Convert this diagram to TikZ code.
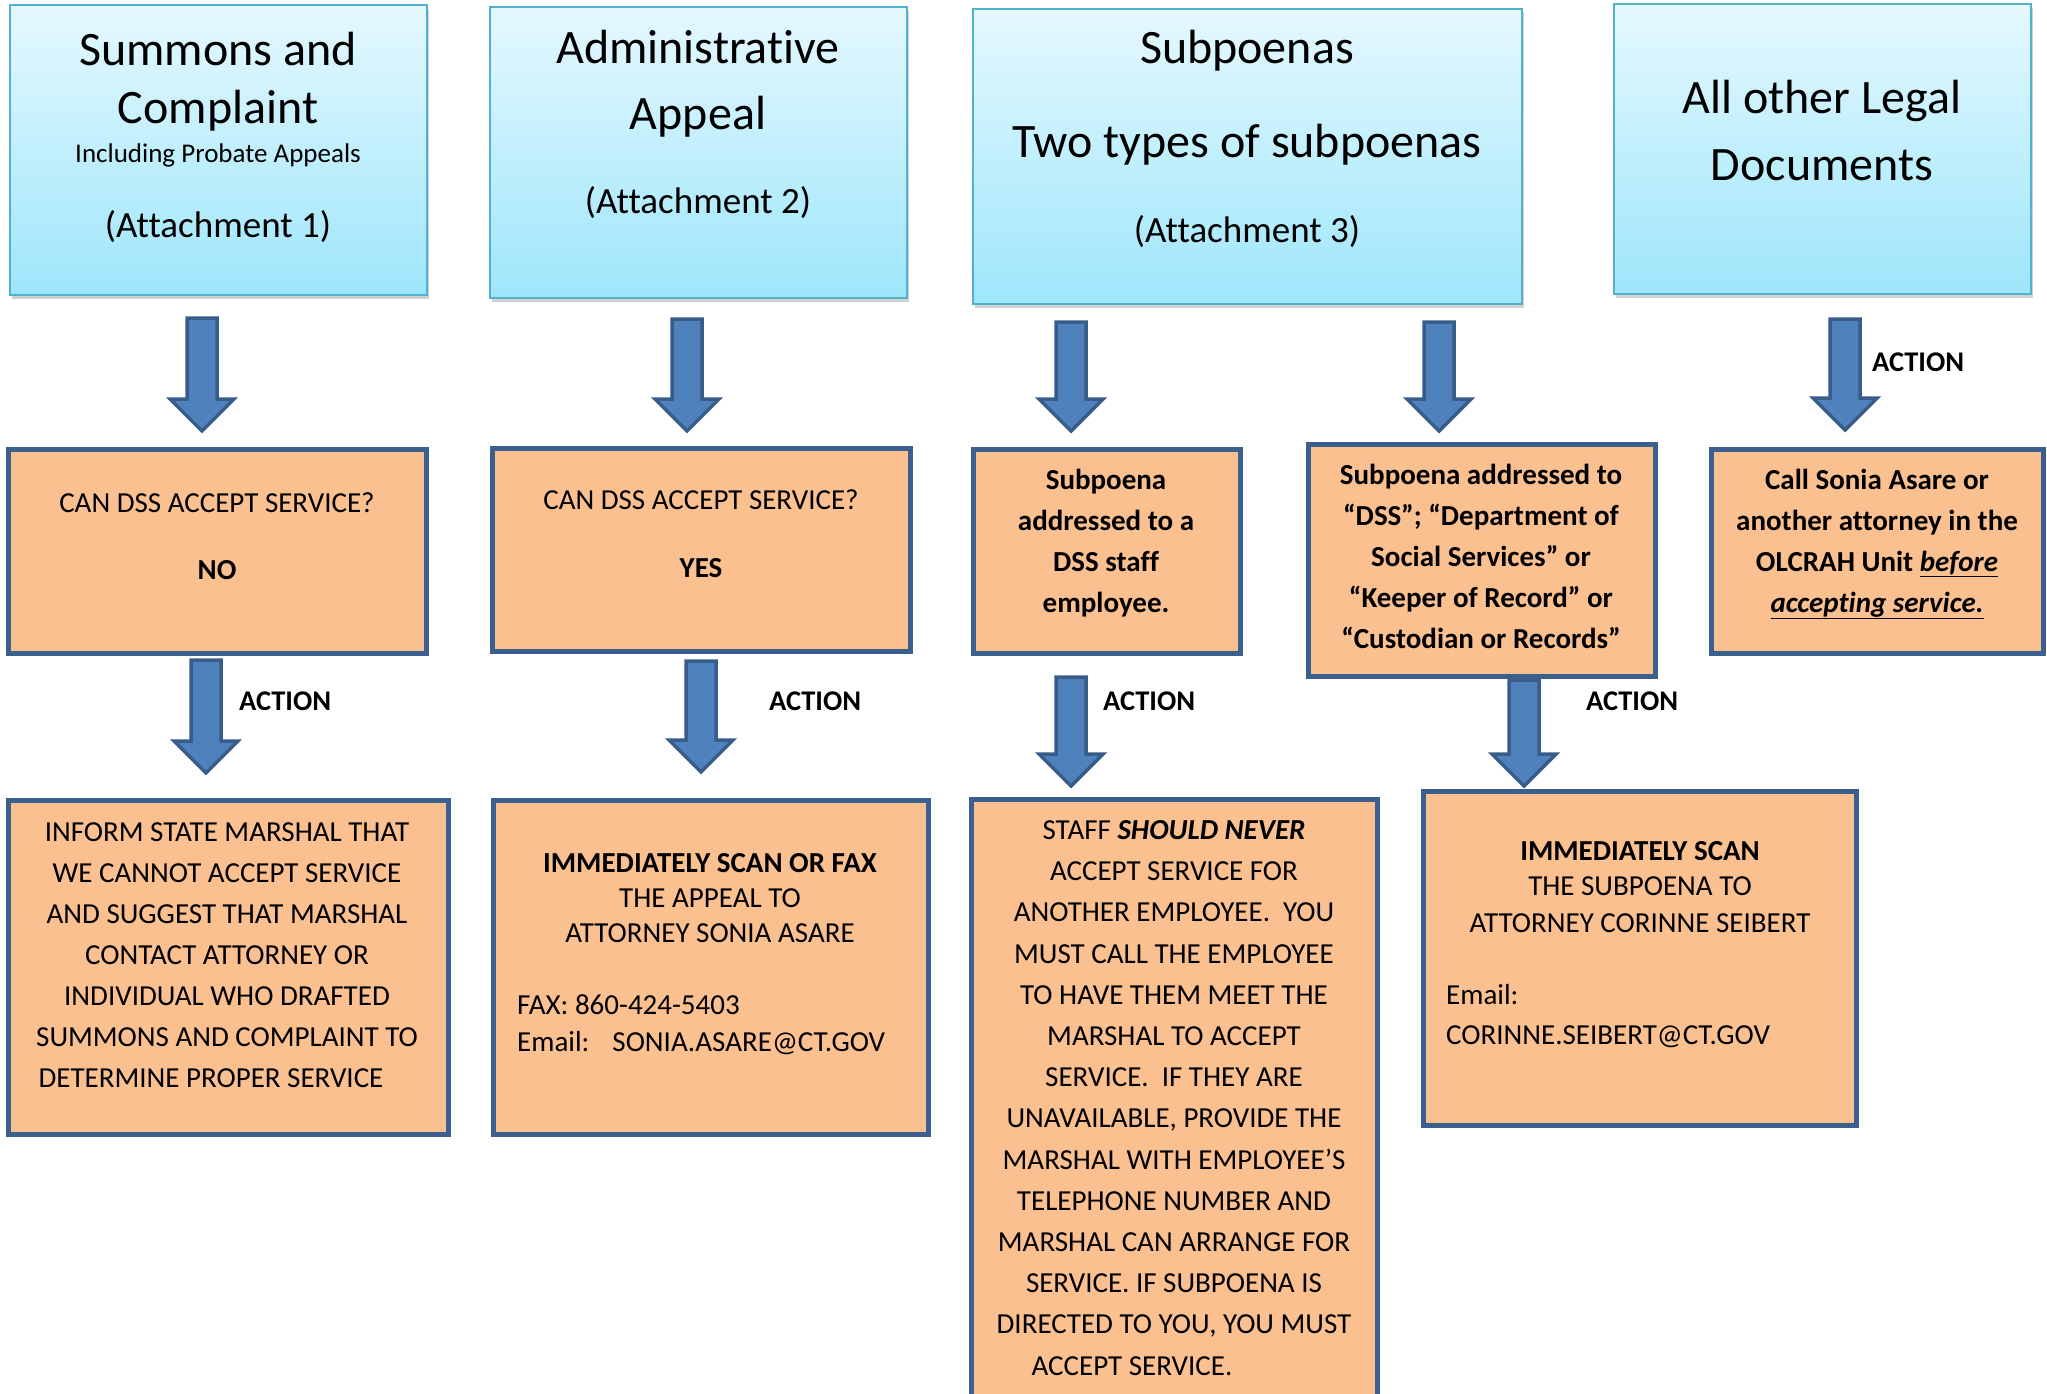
\documentclass[tikz,border=0pt]{standalone}
\usepackage{fontspec}
\setmainfont{Carlito}[Ligatures=NoCommon]
\usetikzlibrary{calc,fit,shadows}
\definecolor{boxorange}{RGB}{250,192,144}
\definecolor{boxedge}{RGB}{60,96,142}
\definecolor{arrfill}{RGB}{79,129,189}
\definecolor{arrline}{RGB}{56,93,138}
\definecolor{aquaedge}{RGB}{82,178,206}
\definecolor{aquatop}{RGB}{229,248,254}
\definecolor{aquabot}{RGB}{158,230,251}
\tikzset{
 bluebox/.style={draw=aquaedge, line width=2.5pt, top color=aquatop, bottom color=aquabot, inner sep=0pt, outer sep=0pt,
   drop shadow={shadow xshift=1.5pt, shadow yshift=-4pt, opacity=0.18, fill=black}},
 orangebox/.style={draw=boxedge, line width=5pt, fill=boxorange, inner sep=0pt, outer sep=0pt},
 blockarrow/.style={draw=arrline, fill=arrfill, line width=3.5pt, line join=miter},
 ttl/.style={anchor=base, font=\fontsize{48}{58}\selectfont, inner sep=0pt},
 att/.style={anchor=base, font=\fontsize{37}{44}\selectfont, inner sep=0pt},
 sml/.style={anchor=base, font=\fontsize{27}{33}\selectfont, inner sep=0pt},
 txt/.style={anchor=base, font=\fontsize{29}{35}\selectfont, inner sep=0pt},
 txtl/.style={txt, anchor=base west},
 bld/.style={txt, font=\fontsize{29}{35}\selectfont\bfseries},
 act/.style={anchor=base west, font=\fontsize{28.5}{34}\selectfont\bfseries, inner sep=0pt},
}
\newcommand\blockarr[2]{%
 \path[blockarrow] let \p1=(#1), \p2=(#2) in
  (\x1-15pt,\y1) -- (\x1+15pt,\y1) -- (\x1+15pt,\y2+32pt) -- (\x1+32pt,\y2+32pt)
  -- (\x1,\y2) -- (\x1-32pt,\y2+32pt) -- (\x1-15pt,\y2+32pt) -- cycle;}
\begin{document}
\begin{tikzpicture}[x=1pt,y=-1pt]
\useasboundingbox (0,0) rectangle (2047,1393);
\clip (0,0) rectangle (2047,1393);
\fill[white] (0,0) rectangle (2047,1393);

% ---------- top row ----------
\node[bluebox, fit={(10,5) (427,295)}] (b1) {};
\node[bluebox, fit={(490,7) (907,298)}] (b2) {};
\node[bluebox, fit={(973,9) (1522,304)}] (b3) {};
\node[bluebox, fit={(1614,4) (2031,294)}] (b4) {};

\node[ttl] (b1t1) at (218,65) {Summons and};
\node[ttl] (b1t2) at (218,123) {Complaint};
\node[sml] (b1t3) at (218,162) {Including Probate Appeals};
\node[att] (b1t4) at (218,237) {(Attachment 1)};

\node[ttl] (b2t1) at (698,63) {Administrative};
\node[ttl] (b2t2) at (698,129) {Appeal};
\node[att] (b2t3) at (698,213) {(Attachment 2)};

\node[ttl] (b3t1) at (1247,63) {Subpoenas};
\node[ttl] (b3t2) at (1247,157) {Two types of subpoenas};
\node[att] (b3t3) at (1247,242) {(Attachment 3)};

\node[ttl] (b4t1) at (1822,113) {All other Legal};
\node[ttl] (b4t2) at (1822,180) {Documents};

% ---------- middle row ----------
\node[orangebox, fit={(8,449) (426,653)}] (o1) {};
\node[orangebox, fit={(492,448) (910,651)}] (o2) {};
\node[orangebox, fit={(973,449) (1240,653)}] (o3) {};
\node[orangebox, fit={(1308,444) (1655,676)}] (o4) {};
\node[orangebox, fit={(1711,449) (2043,653)}] (o5) {};

\node[txt] (o1t1) at (217,512) {CAN DSS ACCEPT SERVICE?};
\node[bld] (o1t2) at (217,579) {NO};
\node[txt] (o2t1) at (701,509) {CAN DSS ACCEPT SERVICE?};
\node[bld] (o2t2) at (701,577) {YES};

\node[bld] (o3t1) at (1106,489) {Subpoena};
\node[bld] (o3t2) at (1106,530) {addressed to a};
\node[bld] (o3t3) at (1106,571) {DSS staff};
\node[bld] (o3t4) at (1106,612) {employee.};

\node[bld] (o4t1) at (1481,484) {Subpoena addressed to};
\node[bld] (o4t2) at (1481,525) {“DSS”; “Department of};
\node[bld] (o4t3) at (1481,566) {Social Services” or};
\node[bld] (o4t4) at (1481,607) {“Keeper of Record” or};
\node[bld] (o4t5) at (1481,648) {“Custodian or Records”};

\node[bld] (o5t1) at (1877,489) {Call Sonia Asare or};
\node[bld] (o5t2) at (1877,530) {another attorney in the};
\node[bld] (o5t3) at (1877,571) {OLCRAH Unit \underline{\textit{before}}};
\node[bld] (o5t4) at (1877,612) {\underline{\textit{accepting service.}}};

% ---------- bottom row ----------
\node[orangebox, fit={(8,800) (448,1134)}] (p1) {};
\node[orangebox, fit={(493,800) (928,1134)}] (p2) {};
\node[orangebox, fit={(971,799) (1377,1430)}] (p3) {};
\node[orangebox, fit={(1423,791) (1856,1125)}] (p4) {};

\node[txt] (p1t1) at (227,841) {INFORM STATE MARSHAL THAT};
\node[txt] (p1t2) at (227,882) {WE CANNOT ACCEPT SERVICE};
\node[txt] (p1t3) at (227,923) {AND SUGGEST THAT MARSHAL};
\node[txt] (p1t4) at (227,964) {CONTACT ATTORNEY OR};
\node[txt] (p1t5) at (227,1005) {INDIVIDUAL WHO DRAFTED};
\node[txt] (p1t6) at (227,1046) {SUMMONS AND COMPLAINT TO};
\node[txt] (p1t7) at (211,1087) {DETERMINE PROPER SERVICE};

\node[bld] (p2t1) at (710,872) {IMMEDIATELY SCAN OR FAX};
\node[txt] (p2t2) at (710,907) {THE APPEAL TO};
\node[txt] (p2t3) at (710,942) {ATTORNEY SONIA ASARE};
\node[txtl] (p2t4) at (517,1014) {FAX: 860-424-5403};
\node[txtl] (p2t5) at (517,1051) {Email:\hspace{23pt}SONIA.ASARE@CT.GOV};

\node[txt] (p3t1) at (1174,839) {STAFF \textbf{\textit{SHOULD NEVER}}};
\node[txt] (p3t2) at (1174,880) {ACCEPT SERVICE FOR};
\node[txt] (p3t3) at (1174,921) {ANOTHER EMPLOYEE.\ \ YOU};
\node[txt] (p3t4) at (1174,963) {MUST CALL THE EMPLOYEE};
\node[txt] (p3t5) at (1174,1004) {TO HAVE THEM MEET THE};
\node[txt] (p3t6) at (1174,1045) {MARSHAL TO ACCEPT};
\node[txt] (p3t7) at (1174,1086) {SERVICE.\ \ IF THEY ARE};
\node[txt] (p3t8) at (1174,1127) {UNAVAILABLE, PROVIDE THE};
\node[txt] (p3t9) at (1174,1169) {MARSHAL WITH EMPLOYEE’S};
\node[txt] (p3t10) at (1174,1210) {TELEPHONE NUMBER AND};
\node[txt] (p3t11) at (1174,1251) {MARSHAL CAN ARRANGE FOR};
\node[txt] (p3t12) at (1174,1292) {SERVICE. IF SUBPOENA IS};
\node[txt] (p3t13) at (1174,1333) {DIRECTED TO YOU, YOU MUST};
\node[txt] (p3t14) at (1132,1375) {ACCEPT SERVICE.};

\node[bld] (p4t1) at (1640,860) {IMMEDIATELY SCAN};
\node[txt] (p4t2) at (1640,895) {THE SUBPOENA TO};
\node[txt] (p4t3) at (1640,932) {ATTORNEY CORINNE SEIBERT};
\node[txtl] (p4t4) at (1446,1004) {Email:};
\node[txtl] (p4t5) at (1446,1044) {CORINNE.SEIBERT@CT.GOV};

% ---------- arrows ----------
\coordinate (a1s) at (202,318);  \coordinate (a1e) at (202,431);
\coordinate (a2s) at (687,319);  \coordinate (a2e) at (687,431);
\coordinate (a3s) at (1071,322); \coordinate (a3e) at (1071,431);
\coordinate (a4s) at (1439,322); \coordinate (a4e) at (1439,431);
\coordinate (a5s) at (1845,319); \coordinate (a5e) at (1845,430);
\coordinate (a6s) at (206,660);  \coordinate (a6e) at (206,773);
\coordinate (a7s) at (701,661);  \coordinate (a7e) at (701,772);
\coordinate (a8s) at (1071,677); \coordinate (a8e) at (1071,786);
\coordinate (a9s) at (1524,680); \coordinate (a9e) at (1524,786);
\blockarr{a1s}{a1e}
\blockarr{a2s}{a2e}
\blockarr{a3s}{a3e}
\blockarr{a4s}{a4e}
\blockarr{a5s}{a5e}
\blockarr{a6s}{a6e}
\blockarr{a7s}{a7e}
\blockarr{a8s}{a8e}
\blockarr{a9s}{a9e}

\node[act] (l5) at (1872,371) {ACTION};
\node[act] (l6) at (239,710) {ACTION};
\node[act] (l7) at (769,710) {ACTION};
\node[act] (l8) at (1103,710) {ACTION};
\node[act] (l9) at (1586,710) {ACTION};
\end{tikzpicture}
\end{document}
